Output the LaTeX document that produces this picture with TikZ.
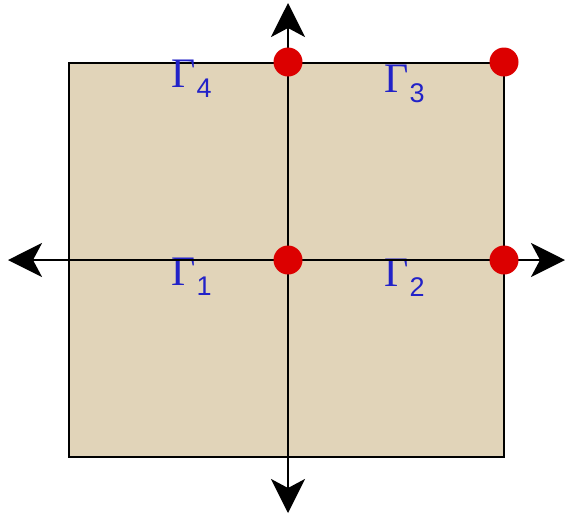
\documentclass[tikz,border=0pt]{standalone}
\usepackage{fontspec}
\setmainfont{Liberation Sans}
\newfontfamily\gammafont{Liberation Serif}
\usetikzlibrary{arrows.meta}
\definecolor{regionfill}{RGB}{225,212,185}
\definecolor{pointred}{RGB}{220,0,0}
\definecolor{labelblue}{RGB}{34,34,200}
\newcommand{\gam}[1]{{\gammafont\fontsize{21}{21}\selectfont\char"0393}\hspace{0.5pt}\raisebox{-5pt}{\fontsize{13.5}{13.5}\selectfont #1}}

\begin{document}
\begin{tikzpicture}[
  x=0.5pt,y=-0.5pt,
  axis/.style={-{Stealth[length=17pt,width=17pt,inset=4.5pt]},line width=1.3pt,draw=black},
  region/.style={fill=regionfill,draw=black,line width=1.3pt},
  point/.style={circle,fill=pointred,inner sep=0pt,minimum size=14.5pt},
  boundary/.style={text=labelblue,inner sep=0pt,anchor=base west}
]
\useasboundingbox (0,0) rectangle (565,516);

% -------------------------------------------------------------------------
% Square domain and the labels of its boundary pieces.
% -------------------------------------------------------------------------
\filldraw[region] (69,63) rectangle (504,457);
\node[boundary] (g4) at (171,87) {\gam{4}};
\node[boundary] (g3) at (384,92) {\gam{3}};
\node[boundary] (g1) at (171,285) {\gam{1}};
\node[boundary] (g2) at (384,286) {\gam{2}};

% -------------------------------------------------------------------------
% Axes through the origin.
% -------------------------------------------------------------------------
\coordinate (origin) at (288,260);
\coordinate (west) at (8,260);
\coordinate (east) at (565,260);
\coordinate (north) at (288,3);
\coordinate (south) at (288,513);
\draw[axis] (origin) -- (west);
\draw[axis] (origin) -- (east);
\draw[axis] (origin) -- (north);
\draw[axis] (origin) -- (south);

% Marked corner points.
\node[point] (p0) at (origin) {};
\node[point] (p1) at (504,260) {};
\node[point] (p2) at (288,62) {};
\node[point] (p3) at (504,62) {};
\end{tikzpicture}
\end{document}
